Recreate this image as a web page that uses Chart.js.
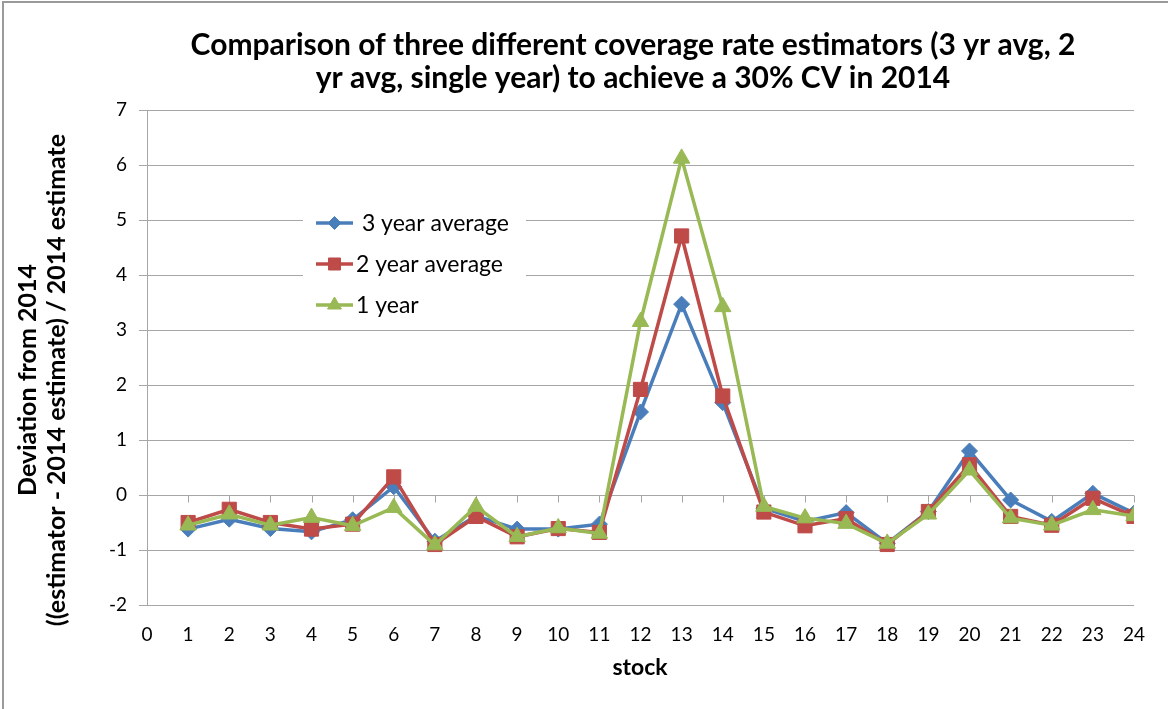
<!DOCTYPE html>
<html>
<head>
<meta charset="utf-8">
<script src="https://cdn.jsdelivr.net/npm/chart.js@4/dist/chart.umd.min.js"></script>
<style>
  html, body { margin: 0; padding: 0; background: #ffffff; }
  #wrap { width: 1168px; height: 709px; position: relative; }
</style>
</head>
<body>
<div id="wrap"><canvas id="chart" width="1168" height="709"></canvas></div>
<script>
// Stock numbers along the x axis
const stocks = [1, 2, 3, 4, 5, 6, 7, 8, 9, 10, 11, 12, 13, 14, 15, 16, 17, 18, 19, 20, 21, 22, 23, 24];

// Deviation from the 2014 estimate for each estimator
const threeYearAvg = [-0.62, -0.44, -0.61, -0.67, -0.45, 0.15, -0.84, -0.38, -0.62, -0.62, -0.53, 1.51,
                      3.47, 1.68, -0.24, -0.48, -0.32, -0.88, -0.30, 0.80, -0.09, -0.48, 0.03, -0.33];
const twoYearAvg   = [-0.50, -0.26, -0.50, -0.62, -0.53, 0.33, -0.90, -0.39, -0.76, -0.61, -0.68, 1.92,
                      4.71, 1.80, -0.31, -0.56, -0.43, -0.90, -0.30, 0.55, -0.39, -0.55, -0.06, -0.39];
const oneYear      = [-0.55, -0.35, -0.55, -0.41, -0.56, -0.23, -0.91, -0.21, -0.76, -0.60, -0.70, 3.15,
                      6.12, 3.42, -0.21, -0.42, -0.52, -0.88, -0.35, 0.45, -0.42, -0.55, -0.27, -0.38];

const seriesLabels = [' 3 year average', '2 year average', '1 year'];
const titleLines = ['Comparison of three different coverage rate estimators (3 yr avg, 2',
                    'yr avg, single year) to achieve a 30% CV in 2014'];
const yTitleLines = ['Deviation from 2014', '((estimator - 2014 estimate) / 2014 estimate'];
const xTitle = 'stock';

const FONT = 'Lato, "Open Sans", "DejaVu Sans", sans-serif';
const GRID = '#a6a6a6';
const BLUE = '#4a7ebb', RED = '#be4b48', GREEN = '#98b954';

const toPoints = vals => vals.map((v, i) => ({ x: stocks[i], y: v }));

// Page frame, titles, the zero-line axis with its tick marks and the inset legend
const decorations = {
  id: 'decorations',
  beforeDraw(chart) {
    const ctx = chart.ctx;
    ctx.save();
    ctx.fillStyle = '#ffffff';
    ctx.fillRect(0, 0, chart.width, chart.height);
    ctx.strokeStyle = '#9a9a9a';
    ctx.lineWidth = 2;
    ctx.strokeRect(3, 2, chart.width + 10, chart.height + 10);
    ctx.restore();
  },
  beforeDatasetsDraw(chart) {
    const ctx = chart.ctx, area = chart.chartArea;
    const xs = chart.scales.x, ys = chart.scales.y;
    const y0 = Math.round(ys.getPixelForValue(0)) + 0.5;
    ctx.save();
    ctx.strokeStyle = GRID;
    ctx.lineWidth = 1;
    ctx.beginPath();
    ctx.moveTo(area.left, y0);
    ctx.lineTo(area.right, y0);
    for (let v = 0; v <= 24; v++) {
      const px = Math.round(xs.getPixelForValue(v)) + 0.5;
      ctx.moveTo(px, y0);
      ctx.lineTo(px, y0 + 7);
    }
    ctx.stroke();
    ctx.restore();
  },
  afterDraw(chart) {
    const ctx = chart.ctx;
    ctx.save();
    ctx.fillStyle = '#000000';
    ctx.textAlign = 'center';
    ctx.textBaseline = 'middle';

    // chart title
    ctx.font = 'bold 30px ' + FONT;
    ctx.fillText(titleLines[0], 633, 45);
    ctx.fillText(titleLines[1], 633, 78);

    // y axis title
    ctx.save();
    ctx.translate(28, 380);
    ctx.rotate(-Math.PI / 2);
    ctx.font = 'bold 25px ' + FONT;
    ctx.fillText(yTitleLines[0], 0, 0);
    ctx.fillText(yTitleLines[1], 0, 29);
    ctx.restore();

    // x axis title
    ctx.font = 'bold 23px ' + FONT;
    ctx.fillText(xTitle, 640, 668);

    // legend box
    ctx.fillStyle = '#ffffff';
    ctx.fillRect(303, 200, 223, 122);
    const rowsY = [223, 264, 305];
    chart.data.datasets.forEach((ds, i) => {
      const y = rowsY[i];
      ctx.strokeStyle = ds.borderColor;
      ctx.lineWidth = 3.5;
      ctx.beginPath();
      ctx.moveTo(316, y);
      ctx.lineTo(353, y);
      ctx.stroke();
      ctx.fillStyle = ds.borderColor;
      ctx.strokeStyle = ds.borderColor;
      ctx.lineWidth = 1;
      Chart.helpers.drawPoint(ctx, { pointStyle: ds.pointStyle, radius: ds.legendRadius, rotation: 0, borderWidth: 1 }, 334.5, y);
      ctx.fillStyle = '#000000';
      ctx.font = '23px ' + FONT;
      ctx.textAlign = 'left';
      ctx.fillText(ds.label, 356, y + 1);
    });
    ctx.restore();
  }
};

new Chart(document.getElementById('chart'), {
  type: 'line',
  data: {
    datasets: [
      { label: seriesLabels[0], data: toPoints(threeYearAvg), borderColor: BLUE, backgroundColor: BLUE,
        pointStyle: 'rectRot', pointRadius: 8, legendRadius: 6.5, order: 3 },
      { label: seriesLabels[1], data: toPoints(twoYearAvg), borderColor: RED, backgroundColor: RED,
        pointStyle: 'rect', pointRadius: 10, legendRadius: 8.5, order: 2 },
      { label: seriesLabels[2], data: toPoints(oneYear), borderColor: GREEN, backgroundColor: GREEN,
        pointStyle: 'triangle', pointRadius: 9.5, legendRadius: 8, order: 1 }
    ].map(d => Object.assign(d, {
      borderWidth: 3.5, pointBorderWidth: 1, pointBorderColor: d.borderColor,
      pointBackgroundColor: d.borderColor, tension: 0, fill: false
    }))
  },
  plugins: [decorations],
  options: {
    responsive: false,
    animation: false,
    events: [],
    layout: { padding: { left: 5, right: 34, top: 110, bottom: 5 } },
    plugins: { legend: { display: false }, title: { display: false }, tooltip: { enabled: false } },
    scales: {
      x: {
        type: 'linear', min: 0, max: 24,
        afterFit(scale) { scale.height = 99; },
        grid: { display: false, drawTicks: false },
        border: { display: false },
        ticks: { stepSize: 1, color: '#000000', padding: 18, maxRotation: 0, autoSkip: false,
                 font: { family: FONT, size: 19 } }
      },
      y: {
        type: 'linear', min: -2, max: 7,
        afterFit(scale) { scale.width = 142; },
        grid: { color: GRID, lineWidth: 1, tickLength: 8 },
        border: { color: GRID, width: 1 },
        ticks: { stepSize: 1, color: '#000000', padding: 12, font: { family: FONT, size: 19 } }
      }
    }
  }
});
</script>
</body>
</html>
